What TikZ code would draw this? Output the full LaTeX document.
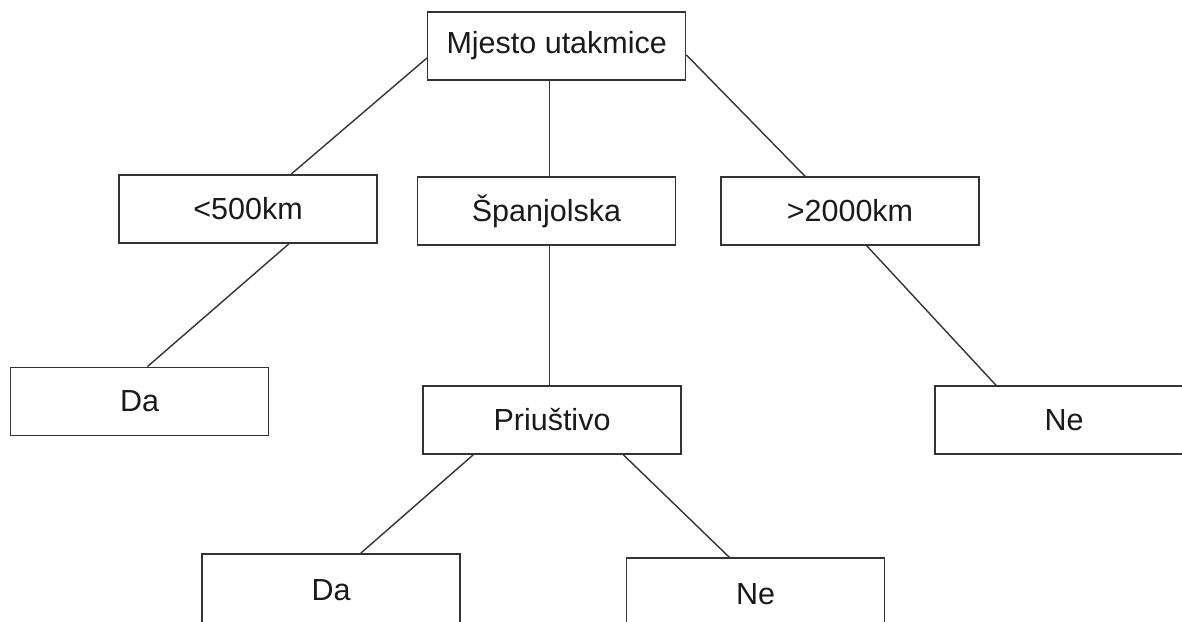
\documentclass[tikz,border=0pt]{standalone}
\usepackage{fontspec}
\setmainfont{Liberation Sans}
\usetikzlibrary{calc}
\definecolor{edge}{HTML}{333333}
\definecolor{txt}{HTML}{1A1A1A}
\begin{document}
\begin{tikzpicture}[x=1pt,y=-1pt,
  box/.style={draw=edge,line width=1.5pt,rectangle,inner sep=0pt,minimum width=258pt,minimum height=68pt,
    font=\fontsize{30.5}{36}\selectfont,text=txt,fill=white},
  conn/.style={draw=edge,line width=1.4pt}]
\path[use as bounding box] (0,0) rectangle (1182,621);
\node[box] (m) at (556.7,46) {Mjesto utakmice};
\node[box] (a) at (248,209) {<500km};
\node[box] (s) at (546.5,211) {Španjolska};
\node[box] (b) at (850,211) {>2000km};
\node[box] (da1) at (139.5,401.3) {Da};
\node[box] (p) at (552,420) {Priuštivo};
\node[box] (ne1) at (1064,420) {Ne};
\node[box,minimum height=72pt] (da2) at (331,590) {Da};
\node[box,minimum height=72pt] (ne2) at (755.7,594) {Ne};
\draw[conn] ([yshift=-12pt]m.west) -- ([xshift=43pt]a.north);
\draw[conn] ([xshift=-7pt]m.south) -- ([xshift=3.2pt]s.north);
\draw[conn] ([yshift=-9pt]m.east) -- ([xshift=-45pt]b.north);
\draw[conn] ([xshift=41pt]a.south) -- ([xshift=8pt]da1.north);
\draw[conn] ([xshift=3.2pt]s.south) -- ([xshift=-2.3pt]p.north);
\draw[conn] ([xshift=16.7pt]b.south) -- ([xshift=-68pt]ne1.north);
\draw[conn] ([xshift=-78.7pt]p.south) -- ([xshift=29.7pt]da2.north);
\draw[conn] ([xshift=71.3pt]p.south) -- ([xshift=-26.4pt]ne2.north);
\end{tikzpicture}
\end{document}
